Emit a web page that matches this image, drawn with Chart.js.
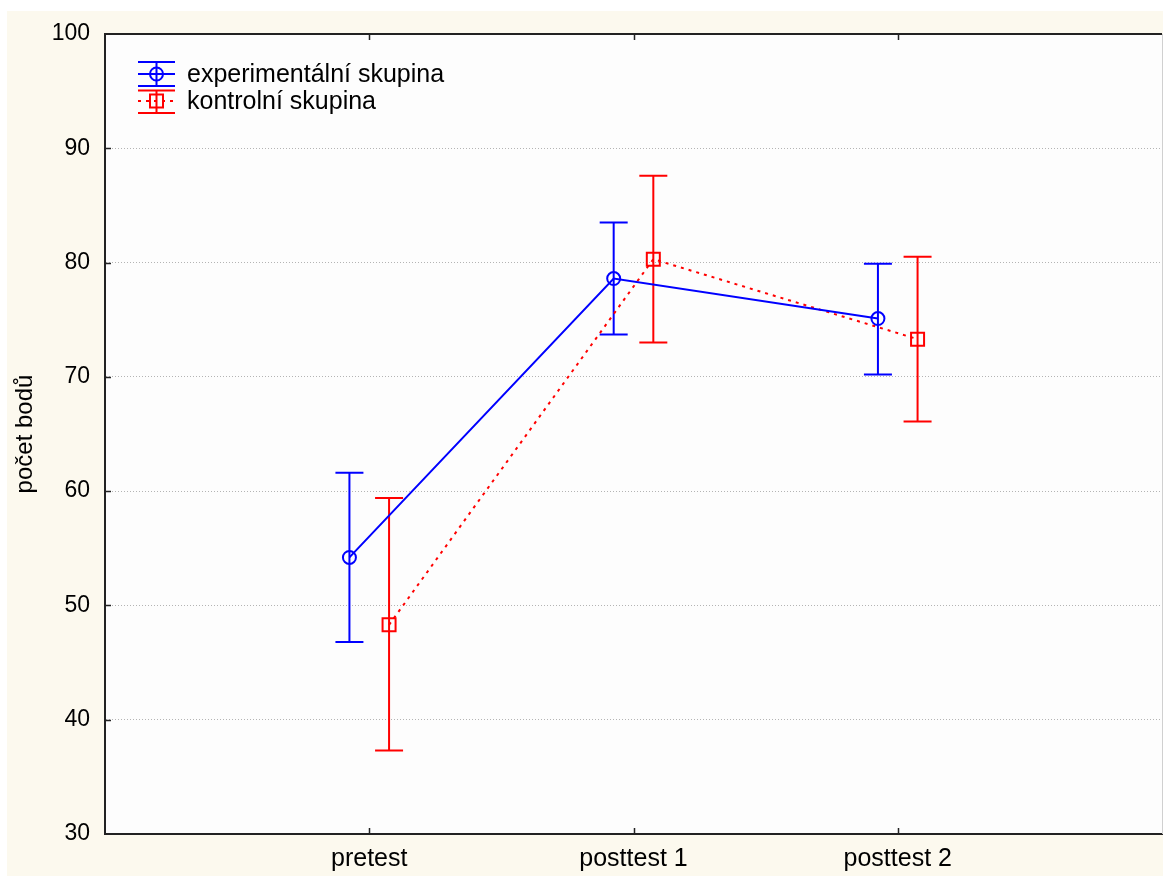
<!DOCTYPE html>
<html>
<head>
<meta charset="utf-8">
<title>počet bodů</title>
<script src="https://cdn.jsdelivr.net/npm/chart.js@4"></script>
<style>
  html, body { margin: 0; padding: 0; background: #ffffff; }
  #wrap { position: absolute; left: 0; top: 0; width: 1163px; height: 876px; }
</style>
</head>
<body>
<div id="wrap"><canvas id="chart" width="1163" height="876"></canvas></div>
<script>
// Measurement occasions on the x axis
const categories = ['pretest', 'posttest 1', 'posttest 2'];
const seriesNames = ['experimentální skupina', 'kontrolní skupina'];

// Group means and the ends of their error bars
const expMean = [54.2, 78.6, 75.1];
const expLow  = [46.8, 73.7, 70.2];
const expHigh = [61.6, 83.5, 79.9];

const ctrlMean = [48.3, 80.3, 73.3];
const ctrlLow  = [37.3, 73.0, 66.1];
const ctrlHigh = [59.4, 87.6, 80.5];

// Value axis
const yMin = 30;
const yMax = 100;
const yStep = 10;
const yTitle = 'počet bodů';

const FONT = '"Liberation Sans", Arial, Helvetica, sans-serif';
const BLUE = '#0000ff';
const RED = '#ff0000';
const GROUP_SHIFT = 0.075; // the two groups sit side by side at each occasion

function toPoints(values, shift) {
  return values.map((v, i) => ({ x: i + 1 + shift, y: v }));
}

// Page background, cream frame and white plotting field
const backdrop = {
  id: 'backdrop',
  beforeDraw(chart) {
    const { ctx, width, height, chartArea: a } = chart;
    ctx.save();
    ctx.fillStyle = '#ffffff';
    ctx.fillRect(0, 0, width, height);
    ctx.fillStyle = '#fcf9ee';
    ctx.fillRect(7, 11, width - 7, height - 11);
    ctx.fillStyle = '#fdfdfd';
    ctx.fillRect(a.left, a.top, a.right - a.left, a.bottom - a.top);
    ctx.restore();
  }
};

// Vertical error bars with end caps
const errorBars = {
  id: 'errorBars',
  beforeDatasetsDraw(chart) {
    const { ctx } = chart;
    const yScale = chart.scales.y;
    const cap = 14;
    chart.data.datasets.forEach((ds, di) => {
      const meta = chart.getDatasetMeta(di);
      ctx.save();
      ctx.strokeStyle = ds.borderColor;
      ctx.lineWidth = 2;
      ctx.setLineDash([]);
      meta.data.forEach((pt, i) => {
        const x = pt.x;
        const yl = yScale.getPixelForValue(ds.errLow[i]);
        const yh = yScale.getPixelForValue(ds.errHigh[i]);
        ctx.beginPath();
        ctx.moveTo(x, yl); ctx.lineTo(x, yh);
        ctx.moveTo(x - cap, yl); ctx.lineTo(x + cap, yl);
        ctx.moveTo(x - cap, yh); ctx.lineTo(x + cap, yh);
        ctx.stroke();
      });
      ctx.restore();
    });
  }
};

// Top and right frame lines plus inward tick marks
const frame = {
  id: 'frame',
  afterDraw(chart) {
    const { ctx, chartArea: a } = chart;
    const xs = chart.scales.x, ys = chart.scales.y;
    ctx.save();
    ctx.setLineDash([]);
    ctx.strokeStyle = '#d0d0d0';
    ctx.lineWidth = 1;
    ctx.beginPath();
    ctx.moveTo(a.right + 0.5, a.top); ctx.lineTo(a.right + 0.5, a.bottom);
    ctx.stroke();
    ctx.strokeStyle = '#222222';
    ctx.lineWidth = 2;
    ctx.beginPath();
    ctx.moveTo(a.left - 1, a.top); ctx.lineTo(a.right, a.top);
    ctx.stroke();
    ctx.lineWidth = 1.5;
    ctx.beginPath();
    categories.forEach((c, i) => {
      const x = Math.round(xs.getPixelForValue(i + 1)) + 0.5;
      ctx.moveTo(x, a.bottom); ctx.lineTo(x, a.bottom - 6);
      ctx.moveTo(x, a.top); ctx.lineTo(x, a.top + 6);
    });
    for (let v = yMin + yStep; v < yMax; v += yStep) {
      const y = Math.round(ys.getPixelForValue(v)) + 0.5;
      ctx.moveTo(a.left, y); ctx.lineTo(a.left + 6, y);
    }
    ctx.stroke();
    ctx.restore();
  }
};

// Legend inside the plot: symbol with error-bar caps, marker and line
const groupLegend = {
  id: 'groupLegend',
  afterDraw(chart) {
    const { ctx } = chart;
    const x0 = 138, x1 = 175, xm = 156.5;
    const rows = [
      { cy: 74, top: 62, bottom: 86 },
      { cy: 101, top: 90.5, bottom: 113 }
    ];
    chart.data.datasets.forEach((ds, di) => {
      const r = rows[di];
      ctx.save();
      ctx.strokeStyle = ds.borderColor;
      ctx.lineWidth = 2;
      ctx.beginPath();
      ctx.moveTo(x0, r.top); ctx.lineTo(x1, r.top);
      ctx.moveTo(x0, r.bottom); ctx.lineTo(x1, r.bottom);
      ctx.moveTo(xm, r.top); ctx.lineTo(xm, r.bottom);
      ctx.stroke();
      ctx.setLineDash(ds.borderDash || []);
      ctx.beginPath();
      ctx.moveTo(x0, r.cy); ctx.lineTo(x1, r.cy);
      ctx.stroke();
      ctx.setLineDash([]);
      ctx.beginPath();
      if (ds.pointStyle === 'rect') {
        ctx.rect(xm - 6.5, r.cy - 6.5, 13, 13);
      } else {
        ctx.arc(xm, r.cy, 6.5, 0, Math.PI * 2);
      }
      ctx.stroke();
      ctx.fillStyle = '#000000';
      ctx.font = '25px ' + FONT;
      ctx.textAlign = 'left';
      ctx.textBaseline = 'middle';
      ctx.fillText(ds.label, 187, r.cy + 1);
      ctx.restore();
    });
  }
};

new Chart(document.getElementById('chart'), {
  type: 'line',
  data: {
    datasets: [
      {
        label: seriesNames[0],
        data: toPoints(expMean, -GROUP_SHIFT),
        errLow: expLow,
        errHigh: expHigh,
        borderColor: BLUE,
        backgroundColor: 'transparent',
        borderWidth: 2,
        pointStyle: 'circle',
        pointRadius: 6.5,
        pointBorderWidth: 2,
        pointBackgroundColor: 'transparent',
        pointBorderColor: BLUE,
        tension: 0
      },
      {
        label: seriesNames[1],
        data: toPoints(ctrlMean, GROUP_SHIFT),
        errLow: ctrlLow,
        errHigh: ctrlHigh,
        borderColor: RED,
        backgroundColor: 'transparent',
        borderWidth: 2,
        borderDash: [3, 5],
        pointStyle: 'rect',
        pointRadius: 9.2,
        pointBorderWidth: 2,
        pointBackgroundColor: 'transparent',
        pointBorderColor: RED,
        tension: 0
      }
    ]
  },
  options: {
    responsive: false,
    devicePixelRatio: 1,
    animation: false,
    layout: { autoPadding: false, padding: { top: 34, right: 1, left: 0, bottom: 0 } },
    plugins: {
      legend: { display: false },
      tooltip: { enabled: false }
    },
    scales: {
      x: {
        type: 'linear',
        min: 0,
        max: categories.length + 1,
        afterBuildTicks(scale) {
          scale.ticks = categories.map((c, i) => ({ value: i + 1 }));
        },
        afterFit(scale) {
          scale.height = 42;
          scale.paddingLeft = 0;
          scale.paddingRight = 0;
        },
        ticks: {
          autoSkip: false,
          maxRotation: 0,
          padding: 10,
          color: '#000000',
          font: { family: FONT, size: 25 },
          callback: (v) => categories[v - 1] || ''
        },
        grid: { display: false, drawTicks: false },
        border: { display: true, color: '#222222', width: 2 }
      },
      y: {
        min: yMin,
        max: yMax,
        afterFit(scale) {
          scale.width = 105;
          scale.paddingTop = 0;
          scale.paddingBottom = 0;
        },
        ticks: {
          stepSize: yStep,
          padding: 15,
          color: '#000000',
          font: { family: FONT, size: 23 }
        },
        grid: {
          drawTicks: false,
          lineWidth: 1,
          color: (c) => (c.tick && (c.tick.value === yMin || c.tick.value === yMax)) ? 'rgba(0,0,0,0)' : '#b4b4b4'
        },
        border: { display: true, color: '#222222', width: 2, dash: [1, 2] },
        title: {
          display: true,
          text: yTitle,
          color: '#000000',
          font: { family: FONT, size: 24 },
          padding: { top: 11, bottom: 0 }
        }
      }
    }
  },
  plugins: [backdrop, errorBars, frame, groupLegend]
});
</script>
</body>
</html>
